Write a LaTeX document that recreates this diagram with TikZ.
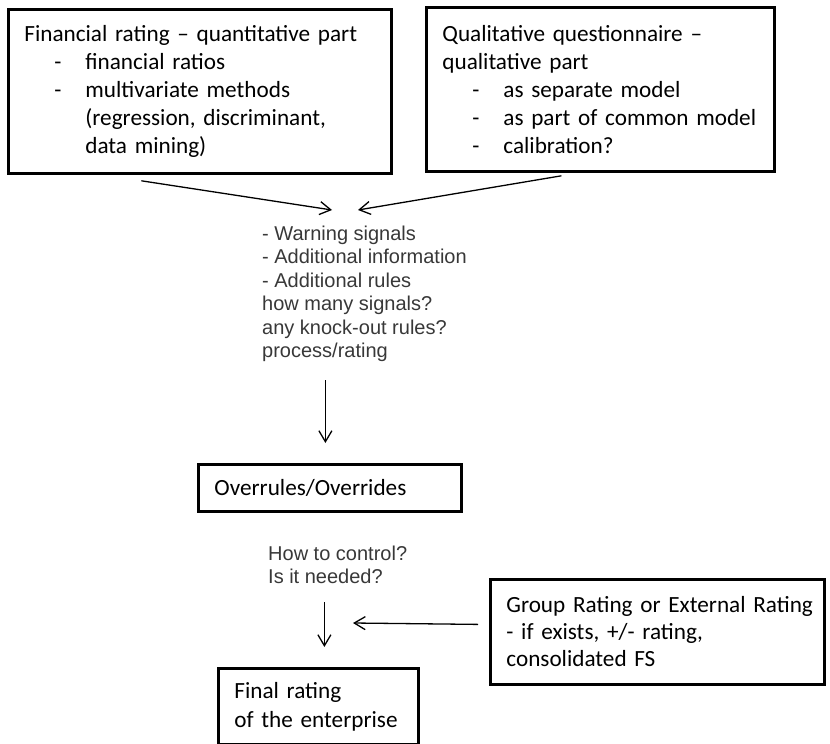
\documentclass[tikz,border=0pt]{standalone}
\usepackage{fontspec}
\setmainfont{Carlito}
\newfontfamily\arialfont{Liberation Sans}
\usetikzlibrary{arrows.meta,calc,positioning}

% dash item inside the boxes
\newcommand{\dashitem}[1]{\mbox{\makebox[61pt][l]{\hspace*{30pt}-}#1}}
\newcommand{\contline}[1]{\mbox{\hspace*{61pt}#1}}

\begin{document}
\begin{tikzpicture}[x=1pt,y=-1pt,
    box/.style={draw, line width=2.8pt, align=left, inner xsep=16pt, inner ysep=0pt,
        anchor=north west, font=\fontsize{23.2}{28}\selectfont},
    note/.style={align=left, inner sep=0pt, anchor=north west, text=black!78,
        font=\arialfont\fontsize{20}{23.5}\selectfont},
    arr/.style={-{Straight Barb[length=11pt,width=13pt]}, line width=1.3pt}]

    \useasboundingbox (0,0) rectangle (830,744);

    % Two input boxes on top
    \node[box, text width=351pt, minimum height=164pt] (quant) at (7,8)
        {\mbox{Financial rating -- quantitative part}\\
         \dashitem{financial ratios}\\
         \dashitem{multivariate methods}\\
         \contline{(regression, discriminant,}\\
         \contline{data mining)}};

    \node[box, text width=316pt, minimum height=164pt] (qual) at (425,6)
        {\mbox{Qualitative questionnaire --}\\
         \mbox{qualitative part}\\
         \dashitem{as separate model}\\
         \dashitem{as part of common model}\\
         \dashitem{calibration?}};

    % Free text in the middle
    \node[note] (signals) at (262,225.7)
        {- Warning signals\\
         - Additional information\\
         - Additional rules\\
         how many signals?\\
         any knock-out rules?\\
         process/rating};

    \node[box, text width=231pt, minimum height=47pt] (overrides) at (197,463)
        {Overrules/Overrides};

    \node[note] (control) at (268,545.7)
        {How to control?\\
         Is it needed?};

    % Bottom boxes
    \node[box, text width=302pt, minimum height=105pt,
        font=\fontsize{23.2}{27}\selectfont] (group) at (489,578)
        {\mbox{Group Rating or External Rating}\\
         \mbox{- if exists, +/- rating,}\\
         \mbox{consolidated FS}};

    \node[box, text width=168pt, minimum height=76pt,
        font=\fontsize{23.2}{29}\selectfont] (final) at (217,667)
        {\mbox{Final rating}\\
         \mbox{of the enterprise}};

    % Arrows
    \coordinate (meetL) at (332,210);
    \coordinate (meetR) at (358,210);
    \coordinate (meetG) at (353,623);

    \draw[arr] ([shift={(-58.5,6)}]quant.south) -- (meetL);
    \draw[arr] ([shift={(-39,3)}]qual.south) -- (meetR);

    \draw[arr] ($(signals.south -| overrides.north)+(-4.5,18)$) -- ($(overrides.north)+(-4.5,-20)$);
    \draw[arr] ($(control.south -| final.north)+(6,18)$) -- ($(final.north)+(6,-20)$);

    \draw[arr] ([shift={(-11,-7.5)}]group.west) -- (meetG);

\end{tikzpicture}
\end{document}
